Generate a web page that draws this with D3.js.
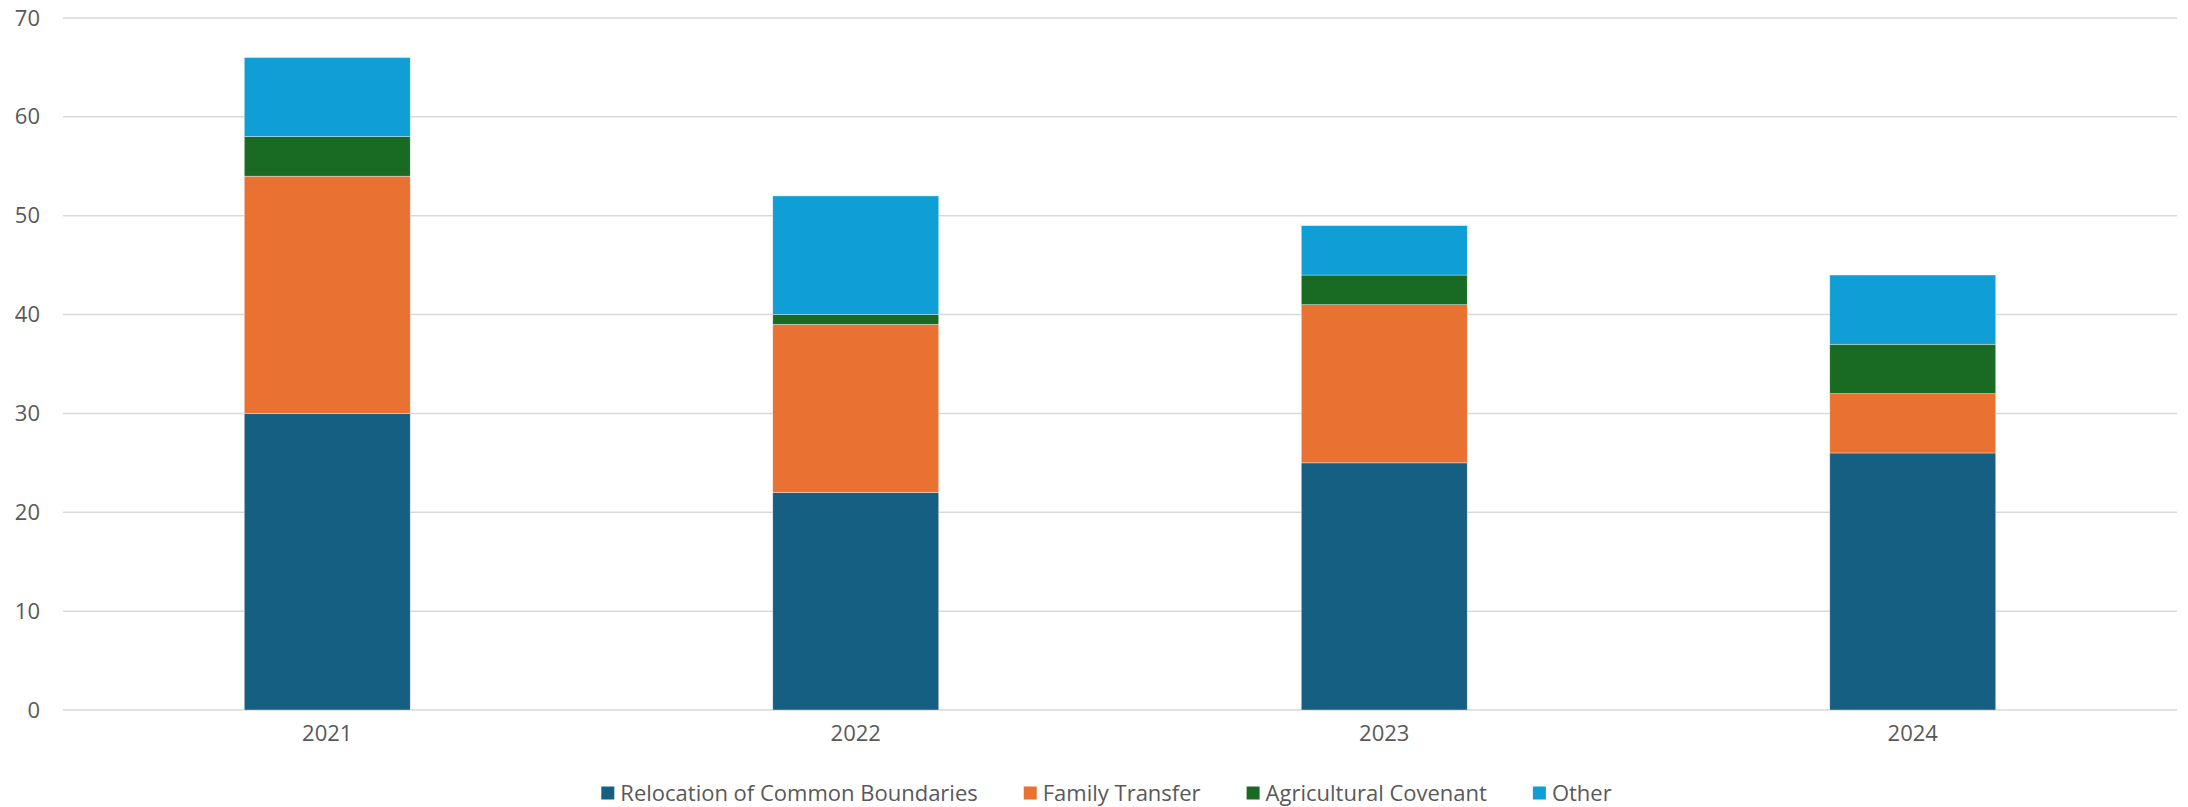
<!DOCTYPE html>
<html>
<head>
<meta charset="utf-8">
<script src="https://cdn.jsdelivr.net/npm/d3@7"></script>
<style>
  html, body { margin: 0; padding: 0; background: #fff; }
  svg { display: block; }
  text { font-family: "Open Sans", "Liberation Sans", Arial, sans-serif; fill: #595959; }
</style>
</head>
<body>
<svg id="chart" width="2188" height="807"></svg>
<script>
const categories = ["2021", "2022", "2023", "2024"];
const seriesNames = ["Relocation of Common Boundaries", "Family Transfer", "Agricultural Covenant", "Other"];
const relocation = [30, 22, 25, 26];
const familyTransfer = [24, 17, 16, 6];
const agricultural = [4, 1, 3, 5];
const other = [8, 12, 5, 7];
const yTicks = [0, 10, 20, 30, 40, 50, 60, 70];
const colors = ["#156082", "#E97132", "#196B24", "#0F9ED5"];

const seriesValues = [relocation, familyTransfer, agricultural, other];
const rows = categories.map((c, i) => {
  const r = { cat: c };
  seriesNames.forEach((s, j) => r[s] = seriesValues[j][i]);
  return r;
});

const svg = d3.select("#chart");
const margin = { left: 63, right: 2188 - 2177, top: 18, bottom: 807 - 710 };
const W = 2188, H = 807;
const FS = 22;

const x = d3.scaleBand().domain(categories).range([margin.left, W - margin.right]).paddingInner(0.686).paddingOuter(0.343);
const y = d3.scaleLinear().domain([0, 70]).range([H - margin.bottom, margin.top]);

// gridlines
svg.append("g").selectAll("line").data(yTicks).join("line")
  .attr("x1", margin.left).attr("x2", W - margin.right)
  .attr("y1", d => y(d)).attr("y2", d => y(d))
  .attr("stroke", "#D9D9D9").attr("stroke-width", 1.5);

// y axis labels
const yAxis = svg.append("g").attr("transform", `translate(${40},0)`)
  .call(d3.axisLeft(y).tickValues(yTicks).tickSize(0).tickPadding(0));
yAxis.select(".domain").remove();
yAxis.selectAll("text").attr("font-size", FS).attr("fill", "#595959")
  .style("font-family", '"Open Sans", "Liberation Sans", Arial, sans-serif');

// bars
const stack = d3.stack().keys(seriesNames);
const stacked = stack(rows);
svg.append("g").selectAll("g").data(stacked).join("g")
  .attr("fill", (d, i) => colors[i])
  .selectAll("rect").data(d => d).join("rect")
  .attr("x", d => x(d.data.cat))
  .attr("width", x.bandwidth())
  .attr("y", d => y(d[1]))
  .attr("height", d => y(d[0]) - y(d[1]))
  .attr("stroke", "#ffffff").attr("stroke-width", 0.6).attr("stroke-opacity", 0.6);

// x axis labels
const xAxis = svg.append("g").attr("transform", `translate(0,${y(0) + 15})`)
  .call(d3.axisBottom(x).tickSize(0).tickPadding(0));
xAxis.select(".domain").remove();
xAxis.selectAll("text").attr("font-size", FS).attr("fill", "#595959").attr("dy", "0.71em")
  .style("font-family", '"Open Sans", "Liberation Sans", Arial, sans-serif');

// legend
const legend = svg.append("g");
const items = legend.selectAll("g").data(seriesNames).join("g");
items.append("rect").attr("width", 13).attr("height", 13).attr("y", -6.5)
  .attr("fill", (d, i) => colors[i]);
items.append("text").attr("x", 19).attr("dy", "0.35em").attr("font-size", FS).text(d => d);
let cx = 0;
const gap = 46;
items.each(function () {
  const g = d3.select(this);
  g.attr("transform", `translate(${cx},0)`);
  cx += 19 + g.select("text").node().getComputedTextLength() + gap;
});
const total = cx - gap;
legend.attr("transform", `translate(${1106.5 - total / 2},${793})`);
</script>
</body>
</html>
